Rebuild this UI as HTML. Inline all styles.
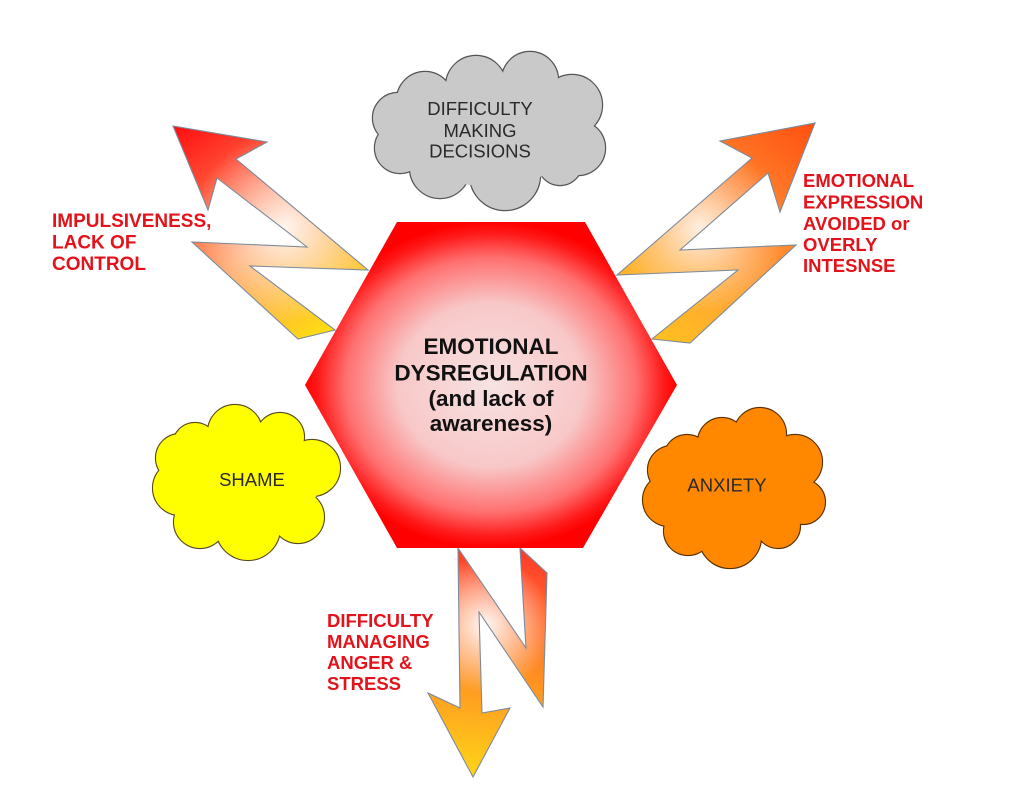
<!DOCTYPE html>
<html>
<head>
<meta charset="utf-8">
<style>
  html,body{margin:0;padding:0;background:#fff;}
  svg{display:block;}
  .lbl{font-family:"Liberation Sans",Arial,sans-serif;font-weight:bold;font-size:18.5px;fill:#e3131b;}
  .hx{font-family:"Liberation Sans",Arial,sans-serif;font-weight:bold;font-size:22.5px;fill:#111;}
  .cl{font-family:"Liberation Sans",Arial,sans-serif;font-size:18.5px;fill:#2a2a2a;}
</style>
</head>
<body>
<svg width="1024" height="791" viewBox="0 0 1024 791" xmlns="http://www.w3.org/2000/svg">
  <defs>
    <linearGradient id="gL" gradientUnits="userSpaceOnUse" x1="185" y1="128" x2="325" y2="338">
      <stop offset="0" stop-color="#ff1414"/>
      <stop offset="0.3" stop-color="#ff6040"/>
      <stop offset="0.55" stop-color="#ff9a58"/>
      <stop offset="0.8" stop-color="#ffbe30"/>
      <stop offset="1" stop-color="#ffe010"/>
    </linearGradient>
    <radialGradient id="wL" gradientUnits="userSpaceOnUse" cx="285" cy="228" r="95">
      <stop offset="0" stop-color="#fff" stop-opacity="0.9"/>
      <stop offset="0.55" stop-color="#fff" stop-opacity="0.4"/>
      <stop offset="1" stop-color="#fff" stop-opacity="0"/>
    </radialGradient>
    <linearGradient id="gR" gradientUnits="userSpaceOnUse" x1="815" y1="125" x2="660" y2="342">
      <stop offset="0" stop-color="#ff5010"/>
      <stop offset="0.3" stop-color="#ff7a28"/>
      <stop offset="0.6" stop-color="#ff9c38"/>
      <stop offset="1" stop-color="#ffc020"/>
    </linearGradient>
    <radialGradient id="wR" gradientUnits="userSpaceOnUse" cx="700" cy="228" r="85">
      <stop offset="0" stop-color="#fff" stop-opacity="0.85"/>
      <stop offset="0.55" stop-color="#fff" stop-opacity="0.35"/>
      <stop offset="1" stop-color="#fff" stop-opacity="0"/>
    </radialGradient>
    <linearGradient id="gB" gradientUnits="userSpaceOnUse" x1="500" y1="548" x2="475" y2="777">
      <stop offset="0" stop-color="#ff3a2a"/>
      <stop offset="0.3" stop-color="#ff6a28"/>
      <stop offset="0.65" stop-color="#ffa020"/>
      <stop offset="1" stop-color="#ffd418"/>
    </linearGradient>
    <radialGradient id="wB" gradientUnits="userSpaceOnUse" cx="485" cy="625" r="68">
      <stop offset="0" stop-color="#fff" stop-opacity="0.95"/>
      <stop offset="0.55" stop-color="#fff" stop-opacity="0.45"/>
      <stop offset="1" stop-color="#fff" stop-opacity="0"/>
    </radialGradient>
    <radialGradient id="gH" cx="0.5" cy="0.5" r="0.5">
      <stop offset="0" stop-color="#f7e2e2"/>
      <stop offset="0.5" stop-color="#f8c8c8"/>
      <stop offset="0.78" stop-color="#ff7070"/>
      <stop offset="0.93" stop-color="#ff1a1a"/>
      <stop offset="1" stop-color="#ff0000"/>
    </radialGradient>
  </defs>

  <rect width="1024" height="791" fill="#fff"/>

  <!-- Left arrow -->
  <polygon points="173,126 267,142 236,159 368,270 250,266 335,330 298,339 192,242 307,247 217,178 208,210" fill="url(#gL)"/>
  <polygon points="173,126 267,142 236,159 368,270 250,266 335,330 298,339 192,242 307,247 217,178 208,210" fill="url(#wL)" stroke="#7d8a99" stroke-width="1.1"/>

  <!-- Right arrow -->
  <polygon points="815,123 780,212 768,173 680,250 796,245 690,343 652,339 738,270 617,275 752,158 720,141" fill="url(#gR)"/>
  <polygon points="815,123 780,212 768,173 680,250 796,245 690,343 652,339 738,270 617,275 752,158 720,141" fill="url(#wR)" stroke="#7d8a99" stroke-width="1.1"/>

  <!-- Bottom arrow -->
  <polygon points="458,548 526,648 520,548 547,573 543,707 479,612 482,713 510,708 473,777 428,693 460,708" fill="url(#gB)"/>
  <polygon points="458,548 526,648 520,548 547,573 543,707 479,612 482,713 510,708 473,777 428,693 460,708" fill="url(#wB)" stroke="#7d8a99" stroke-width="1.1"/>

  <!-- Hexagon -->
  <polygon points="397,222 585,222 677,385 583,548 397,548 305,385" fill="url(#gH)"/>
  <text class="hx" x="491" y="354" text-anchor="middle">EMOTIONAL</text>
  <text class="hx" x="491" y="380.5" text-anchor="middle">DYSREGULATION</text>
  <text class="hx" x="491" y="406" text-anchor="middle">(and lack of</text>
  <text class="hx" x="491" y="431" text-anchor="middle">awareness)</text>

  <!-- Gray cloud -->
  <g fill="#c9c9c9" stroke="#555" stroke-width="2.4">
    <circle cx="425" cy="100" r="28"/><circle cx="476" cy="86" r="30"/><circle cx="530" cy="80" r="28"/>
    <circle cx="572" cy="105" r="30"/><circle cx="578" cy="148" r="27"/><circle cx="560" cy="163" r="22"/>
    <circle cx="505" cy="175" r="35"/><circle cx="440" cy="168" r="30"/><circle cx="400" cy="148" r="25"/>
    <circle cx="398" cy="118" r="25"/>
  </g>
  <g fill="#c9c9c9">
    <circle cx="425" cy="100" r="28"/><circle cx="476" cy="86" r="30"/><circle cx="530" cy="80" r="28"/>
    <circle cx="572" cy="105" r="30"/><circle cx="578" cy="148" r="27"/><circle cx="560" cy="163" r="22"/>
    <circle cx="505" cy="175" r="35"/><circle cx="440" cy="168" r="30"/><circle cx="400" cy="148" r="25"/>
    <circle cx="398" cy="118" r="25"/>
    <ellipse cx="488" cy="131" rx="95" ry="55"/>
  </g>
  <text class="cl" x="480" y="115" text-anchor="middle">DIFFICULTY</text>
  <text class="cl" x="480" y="137" text-anchor="middle">MAKING</text>
  <text class="cl" x="480" y="157.5" text-anchor="middle">DECISIONS</text>

  <!-- Yellow cloud -->
  <g fill="#ffff00" stroke="#5a4a20" stroke-width="2.2">
    <circle cx="195" cy="445" r="22"/><circle cx="235" cy="432" r="27"/><circle cx="280" cy="437" r="24"/>
    <circle cx="312" cy="468" r="28"/><circle cx="298" cy="517" r="26"/><circle cx="248" cy="528" r="32"/>
    <circle cx="200" cy="522" r="26"/><circle cx="180" cy="488" r="27"/><circle cx="180" cy="458" r="24"/>
  </g>
  <g fill="#ffff00">
    <circle cx="195" cy="445" r="22"/><circle cx="235" cy="432" r="27"/><circle cx="280" cy="437" r="24"/>
    <circle cx="312" cy="468" r="28"/><circle cx="298" cy="517" r="26"/><circle cx="248" cy="528" r="32"/>
    <circle cx="200" cy="522" r="26"/><circle cx="180" cy="488" r="27"/><circle cx="180" cy="458" r="24"/>
    <ellipse cx="247" cy="482" rx="72" ry="50"/>
  </g>
  <text class="cl" x="252" y="486" text-anchor="middle">SHAME</text>

  <!-- Orange cloud -->
  <g fill="#ff8800" stroke="#5a3000" stroke-width="2.2">
    <circle cx="687" cy="458" r="23"/><circle cx="722" cy="442" r="24"/><circle cx="760" cy="434" r="26"/>
    <circle cx="795" cy="462" r="27"/><circle cx="803" cy="502" r="22"/><circle cx="778" cy="526" r="22"/>
    <circle cx="730" cy="537" r="31"/><circle cx="688" cy="531" r="24"/><circle cx="669" cy="500" r="26"/>
    <circle cx="672" cy="470" r="24"/>
  </g>
  <g fill="#ff8800">
    <circle cx="687" cy="458" r="23"/><circle cx="722" cy="442" r="24"/><circle cx="760" cy="434" r="26"/>
    <circle cx="795" cy="462" r="27"/><circle cx="803" cy="502" r="22"/><circle cx="778" cy="526" r="22"/>
    <circle cx="730" cy="537" r="31"/><circle cx="688" cy="531" r="24"/><circle cx="669" cy="500" r="26"/>
    <circle cx="672" cy="470" r="24"/>
    <ellipse cx="735" cy="490" rx="68" ry="50"/>
  </g>
  <text class="cl" x="727" y="491.5" text-anchor="middle">ANXIETY</text>

  <!-- Red labels -->
  <text class="lbl" x="52" y="227" style="font-size:19px">IMPULSIVENESS,</text>
  <text class="lbl" x="52" y="248.5" style="font-size:19px">LACK OF</text>
  <text class="lbl" x="52" y="270" style="font-size:19px">CONTROL</text>

  <text class="lbl" x="803" y="187">EMOTIONAL</text>
  <text class="lbl" x="803" y="208.5">EXPRESSION</text>
  <text class="lbl" x="803" y="230">AVOIDED or</text>
  <text class="lbl" x="803" y="251">OVERLY</text>
  <text class="lbl" x="803" y="272">INTESNSE</text>

  <text class="lbl" x="327" y="627">DIFFICULTY</text>
  <text class="lbl" x="327" y="648">MANAGING</text>
  <text class="lbl" x="327" y="669">ANGER &amp;</text>
  <text class="lbl" x="327" y="690">STRESS</text>
</svg>
</body>
</html>
